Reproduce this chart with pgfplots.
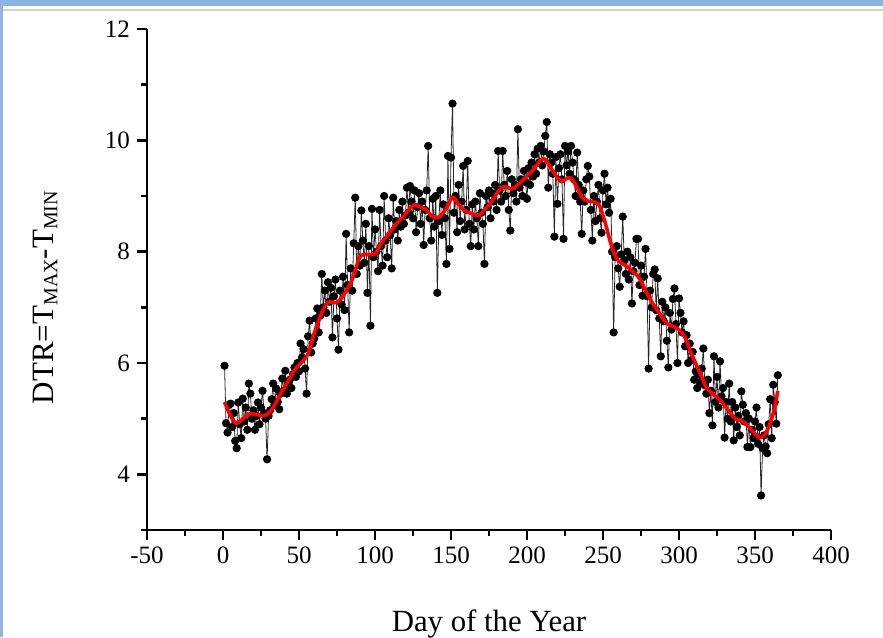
\documentclass[border=0pt]{standalone}
\usepackage{fontspec}
\setmainfont{Liberation Serif}
\usepackage{pgfplots}
\pgfplotsset{compat=1.18}
\definecolor{frameblue}{HTML}{8EB4E3}
\pgfplotsset{geom/.style={at={(73.5pt,53.5pt)}, anchor=south west,
  scale only axis, width=342pt, height=250.5pt,
  xmin=-50, xmax=400, ymin=3, ymax=12, clip=false}}
\begin{document}
\begin{tikzpicture}[x=1pt,y=1pt]
\useasboundingbox (0,0) rectangle (441.5,318.5);
\fill[frameblue] (0,0) rectangle (1.6,318.5);
\fill[frameblue] (0,315.5) rectangle (441.5,318.5);
\draw[black!18, line width=0.9pt] (1.6,313.3) -- (441.5,313.3);
\begin{axis}[
  geom,
  axis lines=left, axis line style={-, line width=1.3pt},
  xtick={-50,0,...,400}, minor xtick={-25,25,...,375},
  ytick={4,6,...,12}, minor ytick={3,5,...,11},
  tick align=outside, major tick length=5pt, minor tick length=3pt,
  every tick/.style={black, line width=1.2pt},
  /pgf/number format/assume math mode=true,
  tick label style={font=\fontsize{12.5}{14}\selectfont},
  xlabel={Day of the Year},
  ylabel={DTR=T{\fontsize{10}{11}\selectfont\raisebox{-0.45ex}{MAX}}-T{\fontsize{10}{11}\selectfont\raisebox{-0.45ex}{MIN}}},
  xlabel style={font=\fontsize{15.4}{17}\selectfont, at={(axis description cs:0.5,-0.1877)}, anchor=center},
  ylabel style={font=\fontsize{15.5}{17}\selectfont, at={(axis description cs:-0.149,0.464)}, anchor=center},
]
\addplot[black!85, line width=0.4pt, mark=*, mark size=1.85pt, mark options={fill=black, draw=black}]
 table[x expr=\coordindex+1, y index=0, row sep=\\] {v\\
5.95\\4.92\\4.75\\5.25\\5.27\\4.85\\5.1\\4.6\\4.47\\5.29\\
4.9\\4.65\\5.36\\4.95\\5.2\\4.8\\5.63\\5.45\\5.0\\5.15\\
4.8\\5.05\\5.29\\4.9\\5.2\\5.5\\5.1\\5.0\\4.27\\5.05\\
5.15\\5.35\\5.63\\5.25\\5.54\\5.3\\5.17\\5.45\\5.72\\5.5\\
5.86\\5.45\\5.63\\5.7\\5.55\\5.8\\5.92\\5.75\\6.0\\5.85\\
6.35\\6.1\\6.25\\5.9\\5.45\\6.48\\6.76\\6.19\\6.35\\6.44\\
6.8\\6.98\\6.55\\6.85\\7.6\\7.0\\7.3\\6.9\\7.45\\7.1\\
7.35\\6.46\\7.2\\7.5\\6.8\\6.24\\7.3\\7.05\\7.55\\6.95\\
8.32\\7.4\\6.55\\7.7\\7.3\\8.15\\8.97\\7.6\\8.1\\7.75\\
8.74\\8.2\\7.8\\8.5\\7.26\\8.1\\6.67\\8.77\\7.9\\8.4\\
8.0\\7.65\\8.75\\8.1\\7.75\\9.0\\8.2\\7.9\\8.6\\8.3\\
7.7\\8.97\\8.4\\8.55\\8.2\\8.75\\8.45\\8.9\\8.5\\8.65\\
9.15\\8.7\\9.18\\8.9\\8.6\\9.1\\8.35\\8.8\\9.05\\8.5\\
8.9\\8.12\\8.75\\9.1\\9.9\\8.6\\8.2\\8.95\\8.45\\9.0\\
7.26\\8.55\\9.1\\8.3\\8.85\\8.6\\7.78\\9.72\\8.05\\9.69\\
10.66\\8.7\\9.0\\8.35\\9.2\\8.55\\8.9\\9.54\\8.4\\8.75\\
9.63\\8.5\\8.1\\8.85\\8.4\\8.9\\8.6\\8.1\\9.05\\8.7\\
8.5\\7.78\\9.0\\8.8\\9.1\\8.6\\9.05\\8.9\\9.2\\8.75\\
9.81\\9.1\\8.9\\9.81\\9.2\\9.0\\9.45\\8.75\\8.38\\9.3\\
9.05\\9.2\\8.9\\10.2\\9.15\\9.3\\9.0\\9.45\\9.25\\8.95\\
9.5\\9.2\\9.6\\9.35\\9.75\\9.4\\9.85\\9.6\\9.9\\9.55\\
9.8\\10.08\\10.33\\9.15\\9.75\\9.6\\9.4\\8.27\\9.7\\8.86\\
9.5\\9.75\\9.3\\8.23\\9.9\\9.55\\9.8\\9.4\\9.9\\9.6\\
9.3\\9.0\\9.78\\9.2\\8.9\\8.32\\9.1\\8.9\\9.3\\9.54\\
9.35\\8.75\\8.2\\9.0\\8.55\\8.9\\9.2\\8.6\\8.34\\9.1\\
9.4\\8.85\\9.15\\8.7\\8.95\\8.0\\6.55\\7.9\\8.1\\7.7\\
7.37\\7.95\\8.63\\7.85\\7.6\\8.0\\7.5\\7.9\\7.07\\7.65\\
7.8\\8.23\\8.23\\7.4\\7.75\\7.21\\7.55\\8.05\\7.2\\5.9\\
7.3\\7.0\\7.6\\7.68\\6.95\\7.52\\6.8\\6.12\\7.1\\6.75\\
7.0\\6.4\\5.92\\6.9\\6.6\\7.15\\7.34\\6.7\\6.0\\7.16\\
6.9\\6.55\\6.75\\6.3\\6.5\\6.0\\6.35\\6.05\\6.2\\5.7\\
5.85\\5.55\\5.8\\5.65\\5.9\\6.26\\5.6\\5.45\\5.7\\5.1\\
5.5\\4.88\\6.12\\5.3\\5.75\\5.2\\6.03\\5.4\\5.55\\4.66\\
5.3\\5.0\\5.63\\4.95\\5.3\\4.61\\5.2\\4.85\\5.05\\4.7\\
5.49\\5.25\\4.95\\5.1\\4.49\\5.0\\4.49\\4.8\\4.65\\4.95\\
5.2\\4.55\\4.85\\3.62\\4.47\\4.7\\4.5\\4.38\\4.9\\5.35\\
4.65\\5.61\\5.3\\4.91\\5.78\\
};
\end{axis}
\begin{axis}[geom, hide axis]
\addplot[red, line width=1.8pt, smooth, tension=0.55] coordinates {
(1,5.3) (5,5.05) (9,4.92) (14,5.02) (18,5.09) (23,5.07) (28,5.06) (33,5.2)
(39,5.5) (43,5.68) (47,5.87) (52,6.02) (56,6.17) (60,6.53) (65,6.9) (69,7.09)
(75,7.09) (80,7.25) (85,7.5) (90,7.9) (95,7.95) (100,7.96) (104,8.15) (109,8.32)
(114,8.5) (118,8.61) (125,8.83) (130,8.8) (133,8.77) (137,8.65) (141,8.61)
(146,8.74) (151,8.97) (155,8.85) (159,8.74) (164,8.68) (168,8.65) (172,8.75)
(177,8.91) (181,9.08) (185,9.17) (190,9.13) (194,9.2) (199,9.33) (205,9.5)
(210,9.67) (213,9.62) (217,9.45) (220,9.33) (223,9.27) (228,9.33) (232,9.2)
(237,8.95) (242,8.9) (247,8.86) (251,8.56) (256,8.07) (260,7.84) (265,7.75)
(269,7.66) (274,7.52) (278,7.3) (282,7.1) (287,6.9) (292,6.71) (299,6.62)
(304,6.46) (307,6.25) (311,5.99) (315,5.75) (318,5.56) (322,5.45) (326,5.36)
(331,5.2) (337,5.0) (341,4.97) (345,4.88) (348,4.79) (353,4.66) (356,4.7)
(358,4.79) (361,5.0) (363,5.2) (365,5.5)
};
\end{axis}
\end{tikzpicture}
\end{document}
